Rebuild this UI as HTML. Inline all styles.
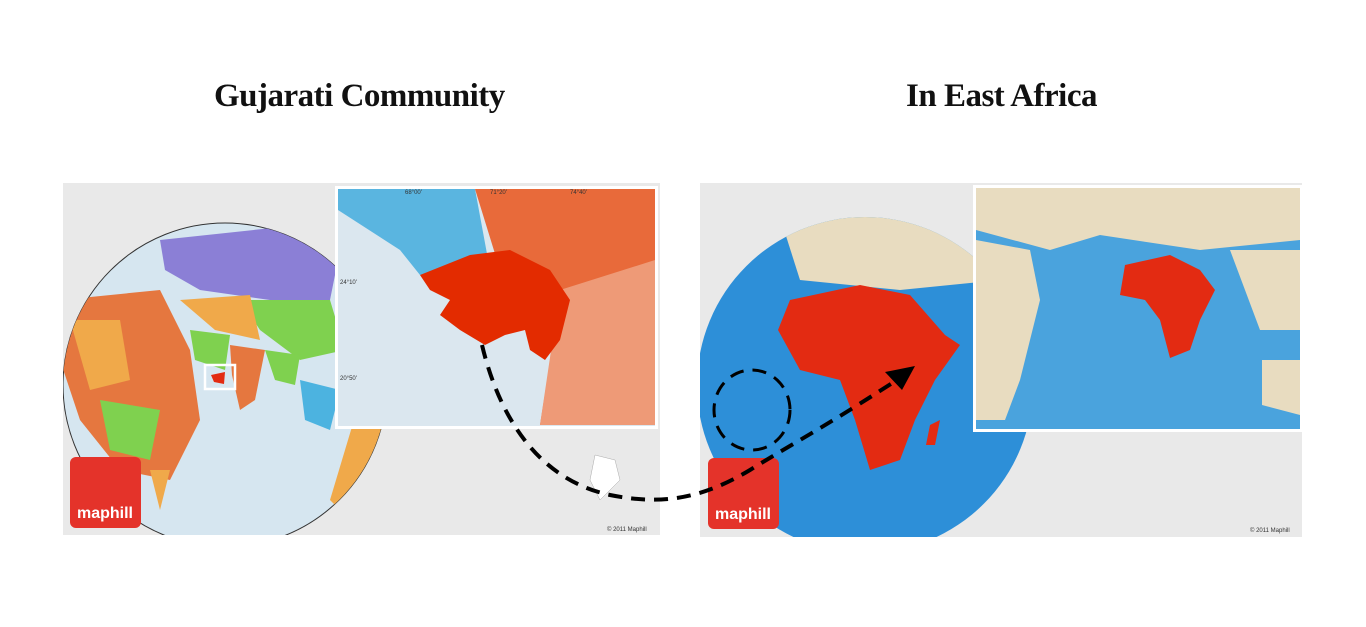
<!DOCTYPE html>
<html><head><meta charset="utf-8"><style>
body{margin:0;width:1366px;height:627px;background:#fff;overflow:hidden;position:relative;font-family:"Liberation Serif",serif}
.t{position:absolute;top:78px;font-weight:bold;font-size:33px;color:#111;letter-spacing:-0.5px}
</style></head><body>
<div class="t" style="left:214px">Gujarati Community</div>
<div class="t" style="left:906px">In East Africa</div>
<svg width="1366" height="627" style="position:absolute;left:0;top:0">
<defs>
<clipPath id="cl"><rect x="63" y="183" width="597" height="352"/></clipPath>
<clipPath id="cr"><rect x="700" y="183" width="602" height="354"/></clipPath>
<clipPath id="gl"><circle cx="225" cy="385" r="162"/></clipPath>
<clipPath id="gr"><circle cx="865" cy="385" r="168"/></clipPath>
</defs>
<g>
<rect x="63" y="183" width="597" height="352" fill="#e9e9e9"/>
<g clip-path="url(#cl)">
<circle cx="225" cy="385" r="162" fill="#d6e6f0" stroke="#333" stroke-width="1"/>
<g clip-path="url(#gl)">
<path d="M160 240 L300 225 L340 250 L330 300 L270 300 L200 290 L165 270Z" fill="#8b7fd6"/>
<path d="M240 300 L330 300 L345 350 L300 360 L260 330Z" fill="#7fd14f"/>
<path d="M180 300 L250 295 L260 340 L215 330Z" fill="#f0a94a"/>
<path d="M60 300 L160 290 L190 350 L200 420 L170 480 L120 470 L80 420 L60 360Z" fill="#e5773f"/>
<path d="M70 320 L120 320 L130 380 L90 390Z" fill="#f0a94a"/>
<path d="M100 400 L160 410 L150 460 L110 450Z" fill="#7fd14f"/>
<path d="M190 330 L230 335 L225 370 L195 360Z" fill="#7fd14f"/>
<path d="M230 345 L265 350 L255 400 L240 410 L232 375Z" fill="#e5773f"/>
<path d="M265 350 L300 355 L295 385 L275 380Z" fill="#7fd14f"/>
<path d="M300 380 L340 390 L330 430 L305 420Z" fill="#4cb3e0"/>
<path d="M150 470 L170 470 L160 510Z" fill="#f0a94a"/>
<path d="M360 400 L390 420 L350 520 L330 500Z" fill="#f0a94a"/>
</g>
<rect x="205" y="365" width="30" height="24" fill="none" stroke="#fff" stroke-width="2.5"/>
<path d="M211 375 L225 372 L224 384 L214 382Z" fill="#e32b12"/>
</g>
<g>
<rect x="335" y="186" width="323" height="243" fill="#fff"/>
<rect x="338" y="189" width="317" height="237" fill="#dbe7ef"/>
<path d="M338 189 L475 189 L490 270 L420 275 L400 250 L338 210Z" fill="#5ab5e0"/>
<path d="M475 189 L655 189 L655 425 L540 425 L555 330 L500 270Z" fill="#e86a3a"/>
<path d="M560 290 L655 260 L655 425 L540 425Z" fill="#ee9a77"/>
<path d="M420 275 L470 255 L510 250 L550 270 L570 300 L560 340 L545 360 L530 350 L525 330 L505 335 L485 345 L460 330 L440 315 L450 300 L430 290Z" fill="#e32b00"/>
<text x="405" y="194" font-size="6" font-family="Liberation Sans" fill="#333">68°00'</text>
<text x="490" y="194" font-size="6" font-family="Liberation Sans" fill="#333">71°20'</text>
<text x="570" y="194" font-size="6" font-family="Liberation Sans" fill="#333">74°40'</text>
<text x="340" y="284" font-size="6" font-family="Liberation Sans" fill="#333">24°10'</text>
<text x="340" y="380" font-size="6" font-family="Liberation Sans" fill="#333">20°50'</text>
</g>
<path d="M595 455 L615 460 L620 480 L600 500 L590 480Z" fill="#fff" stroke="#aaa" stroke-width="0.5"/>
<text x="607" y="531" font-size="6" font-family="Liberation Sans" fill="#333">© 2011 Maphill</text>
<g>
<rect x="70" y="457" width="71" height="71" rx="6" fill="#e4332a"/>
<text x="105" y="518" font-size="16" font-weight="bold" font-family="Liberation Sans" fill="#fff" text-anchor="middle">maphill</text>
</g>
</g>
<g>
<rect x="700" y="183" width="602" height="354" fill="#e9e9e9"/>
<g clip-path="url(#cr)">
<circle cx="865" cy="385" r="168" fill="#2d8fd8"/>
<g clip-path="url(#gr)">
<path d="M780 217 L960 217 L1000 280 L900 290 L800 280Z" fill="#e8dcc0"/>
<path d="M790 300 L860 285 L910 295 L945 335 L960 345 L935 380 L915 420 L900 460 L870 470 L855 420 L840 380 L800 370 L778 330Z" fill="#e32b12"/>
<path d="M930 425 L940 420 L935 445 L926 445Z" fill="#e32b12"/>
</g>
</g>
<g>
<rect x="973" y="185" width="329" height="247" fill="#fff"/>
<rect x="976" y="188" width="324" height="241" fill="#4aa3dd"/>
<path d="M976 188 L1300 188 L1300 240 L1200 250 L1100 235 L1050 250 L976 230Z" fill="#e8dcc0"/>
<path d="M976 240 L1030 250 L1040 300 L1020 380 L1005 420 L976 420Z" fill="#e8dcc0"/>
<path d="M1230 250 L1300 250 L1300 330 L1260 330Z" fill="#e8dcc0"/>
<path d="M1125 265 L1170 255 L1200 270 L1215 290 L1200 320 L1190 350 L1170 358 L1160 320 L1145 300 L1120 295Z" fill="#e32b12"/>
<path d="M1262 360 L1300 360 L1300 415 L1262 405Z" fill="#e8dcc0"/>
</g>
<text x="1250" y="532" font-size="6" font-family="Liberation Sans" fill="#333">© 2011 Maphill</text>
<g>
<rect x="708" y="458" width="71" height="71" rx="6" fill="#e4332a"/>
<text x="743" y="519" font-size="16" font-weight="bold" font-family="Liberation Sans" fill="#fff" text-anchor="middle">maphill</text>
</g>
</g>
<g fill="none" stroke="#000" stroke-width="4" stroke-dasharray="14,9">
<path d="M482 345 C500 420 540 480 610 495 C660 505 700 500 750 470 C790 445 820 430 900 378"/>
<ellipse cx="752" cy="410" rx="38" ry="40" stroke-width="3"/>
</g>
<path d="M915 366 L885 372 L902 390Z" fill="#000"/>
</svg>
</body></html>
